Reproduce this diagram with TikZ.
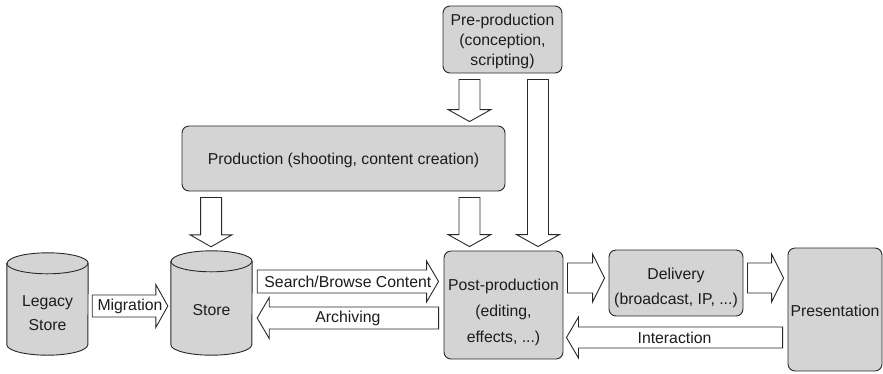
\documentclass[tikz,border=0pt]{standalone}
\usepackage{fontspec}
\setmainfont{Liberation Sans}
\usetikzlibrary{calc}

\definecolor{boxgray}{RGB}{212,212,212}
\definecolor{edge}{RGB}{40,40,40}
\definecolor{ink}{RGB}{28,28,28}

\tikzset{
  stage/.style={draw=edge, fill=boxgray, line width=0.9bp, rounded corners=7bp, inner sep=0pt},
  drumbox/.style={inner sep=0pt},
  drum/.style={draw=edge, fill=boxgray, line width=0.9bp},
  caption/.style={text=ink, align=center, inner sep=0pt, font=\fontsize{15.8bp}{#1}\selectfont},
  caption/.default=19bp,
  blockarrow/.style={draw=edge, fill=white, line width=0.9bp, line join=miter},
  arrowlabel/.style={text=ink, inner sep=0pt, font=\fontsize{15.8bp}{19bp}\selectfont},
}

% database drum drawn over the extent of a named (invisible) node
\newcommand\drawdrum[1]{%
  \path[drum] ($(#1.north west)+(0,10.5)$) -- ($(#1.south west)+(0,-10.5)$)
    arc[start angle=180, end angle=360, x radius=40.5bp, y radius=10.5bp]
    -- ($(#1.north east)+(0,10.5)$)
    arc[start angle=0, end angle=180, x radius=40.5bp, y radius=10.5bp] -- cycle;
  \draw[drum, fill=none] ($(#1.north west)+(0,10.5)$)
    arc[start angle=180, end angle=360, x radius=40.5bp, y radius=10.5bp];}

% horizontal block arrow: tail, tip, shaft half-width, head half-width
\newcommand\hblock[4]{%
  \draw[blockarrow] let \p1=(#1), \p2=(#2), \n1={ifthenelse(\x2>\x1,1,-1)} in
    (\x1,\y1+#3) -- ({\x2-(\n1)*12bp},\y1+#3) -- ({\x2-(\n1)*12bp},\y1+#4) -- (\x2,\y1)
    -- ({\x2-(\n1)*12bp},\y1-#4) -- ({\x2-(\n1)*12bp},\y1-#3) -- (\x1,\y1-#3) -- cycle;}

% vertical block arrow: tail, tip, shaft half-width, head half-width
\newcommand\vblock[4]{%
  \draw[blockarrow] let \p1=(#1), \p2=(#2), \n1={ifthenelse(\y2>\y1,1,-1)} in
    (\x1+#3,\y1) -- (\x1+#3,{\y2-(\n1)*12bp}) -- (\x1+#4,{\y2-(\n1)*12bp}) -- (\x1,\y2)
    -- (\x1-#4,{\y2-(\n1)*12bp}) -- (\x1-#3,{\y2-(\n1)*12bp}) -- (\x1-#3,\y1) -- cycle;}

% text centred on a horizontal block arrow: name, tail, tip, text
\newcommand\blocklabel[4]{%
  \path let \p1=(#2), \p2=(#3) in ({(\x1+\x2)/2},\y1) node[arrowlabel] (#1) {#4};}

\begin{document}
\begin{tikzpicture}[x=1bp, y=-1bp]
  \path[fill=white] (0,0) rectangle (883,373);
  \useasboundingbox (0,0) rectangle (883,373);

  % stages
  \node[stage, minimum width=119bp, minimum height=67bp]  (pre)   at (502.5,39.5) {};
  \node[stage, minimum width=323bp, minimum height=65bp]  (prod)  at (343.5,158.5) {};
  \node[stage, minimum width=119bp, minimum height=108bp] (post)  at (503.5,305) {};
  \node[stage, minimum width=134bp, minimum height=66bp]  (deliv) at (676,283) {};
  \node[stage, minimum width=94bp,  minimum height=123bp] (pres)  at (835,309.5) {};

  % stores
  \node[drumbox, minimum width=81bp, minimum height=102bp] (legacy) at (47.5,304) {};
  \node[drumbox, minimum width=81bp, minimum height=104bp] (store)  at (211.5,303) {};
  \drawdrum{legacy}
  \drawdrum{store}

  % texts
  \node[caption=20bp] (pretext)    at ($(pre.center)+(0,2)$)     {Pre-production\\(conception,\\scripting)};
  \node[caption]      (prodtext)   at ($(prod.center)+(0,1.5)$)  {Production (shooting, content creation)};
  \node[caption=26bp] (posttext)   at ($(post.center)+(0,7.5)$)  {Post-production\\(editing,\\effects, ...)};
  \node[caption=25bp] (delivtext)  at ($(deliv.center)+(0,4.5)$) {Delivery\\(broadcast, IP, ...)};
  \node[caption]      (prestext)   at ($(pres.center)+(0,1)$)    {Presentation};
  \node[caption=24bp] (legacytext) at ($(legacy.center)+(0,9.4)$) {Legacy\\Store};
  \node[caption]      (storetext)  at ($(store.center)+(0,7.4)$) {Store};

  % arrow end points
  \coordinate (migA)  at ($(legacy.east)+(4,2)$);
  \coordinate (migB)  at ($(store.west)+(-3,0)$);
  \coordinate (srchA) at ($(store.east)+(5,-21.5)$);
  \coordinate (srchB) at ($(post.west)+(-5,0)$);
  \coordinate (archA) at ($(post.west)+(-5,13)$);
  \coordinate (archB) at ($(store.east)+(5,0)$);
  \coordinate (dlvA)  at ($(post.east)+(4,-27)$);
  \coordinate (dlvB)  at ($(deliv.west)+(-4,0)$);
  \coordinate (shwA)  at ($(deliv.east)+(4,-5)$);
  \coordinate (shwB)  at ($(pres.west)+(-4,0)$);
  \coordinate (intA)  at ($(pres.west)+(-5,28)$);
  \coordinate (intB)  at ($(post.east)+(3,0)$);
  \coordinate (ppA)   at ($(pre.south)+(-33,6)$);
  \coordinate (ppB)   at ($(prod.north)+(0,-4)$);
  \coordinate (pqA)   at ($(pre.south)+(35.5,6)$);
  \coordinate (pqB)   at ($(post.north)+(0,-4)$);
  \coordinate (psA)   at ($(prod.south west)+(29.5,6)$);
  \coordinate (psB)   at ($(store.north)+(0,-4)$);
  \coordinate (poA)   at ($(prod.south)+(126,6)$);
  \coordinate (poB)   at ($(post.north)+(0,-4)$);

  % vertical flows
  \vblock{ppA}{ppB}{10.5bp}{21.5bp}
  \vblock{pqA}{pqB}{10.5bp}{21.5bp}
  \vblock{psA}{psB}{10.5bp}{21bp}
  \vblock{poA}{poB}{10.5bp}{21.5bp}

  % horizontal flows
  \hblock{migA}{migB}{11bp}{21.5bp}
  \hblock{srchA}{srchB}{11.5bp}{20.5bp}
  \hblock{archA}{archB}{11bp}{20.5bp}
  \hblock{dlvA}{dlvB}{15bp}{24bp}
  \hblock{shwA}{shwB}{15bp}{24bp}
  \hblock{intA}{intB}{10.5bp}{20.5bp}

  \blocklabel{miglabel}{migA}{migB}{Migration}
  \blocklabel{srchlabel}{srchA}{srchB}{Search/Browse Content}
  \blocklabel{archlabel}{archA}{archB}{Archiving}
  \blocklabel{intlabel}{intA}{intB}{Interaction}
\end{tikzpicture}
\end{document}
